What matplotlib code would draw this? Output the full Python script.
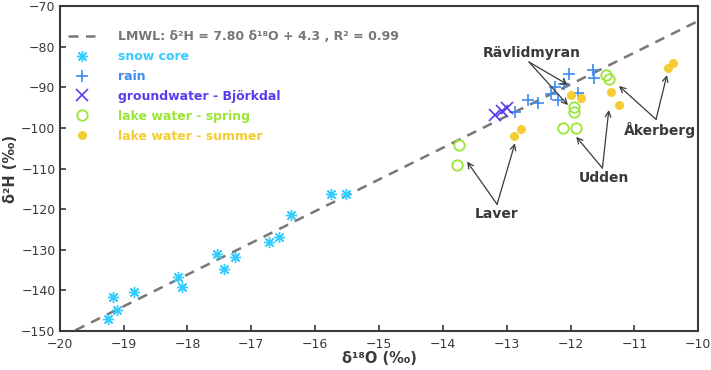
import matplotlib.pyplot as plt
import numpy as np

# data
snow_x = [-19.24, -19.11, -19.17, -18.84, -18.14, -18.09, -17.53, -17.43, -17.25,
          -16.72, -16.57, -16.37, -15.75, -15.51]
snow_y = [-147.1, -144.7, -141.7, -140.3, -136.6, -139.1, -131.0, -134.6, -131.7,
          -128.0, -126.8, -121.4, -116.3, -116.3]

rain_x = [-12.87, -12.67, -12.51, -12.31, -12.19, -12.25, -12.02, -12.10, -11.89, -11.65, -11.63]
rain_y = [-96.2, -93.1, -94.0, -91.7, -93.1, -89.9, -86.8, -89.3, -91.3, -85.8, -87.8]

gw_x = [-13.18, -13.08, -13.00]
gw_y = [-96.8, -95.8, -95.2]

spring_x = [-13.74, -13.78, -11.95, -11.95, -12.11, -11.91, -11.45, -11.39]
spring_y = [-104.2, -109.1, -94.8, -96.2, -100.0, -100.1, -87.0, -88.0]

summer_x = [-12.88, -12.78, -11.99, -11.84, -11.37, -11.24, -10.48, -10.40]
summer_y = [-101.9, -100.3, -91.9, -92.7, -91.2, -94.4, -85.3, -84.1]

lmwl_slope = 7.80
lmwl_icept = 4.3

c_snow = '#33ccff'
c_rain = '#3a8cf0'
c_gw = '#5a3cf0'
c_spring = '#99e633'
c_summer = '#f5cc33'
c_line = '#777777'
c_dark = '#3a3a3a'

fig = plt.figure(figsize=(7.11, 3.70), dpi=100)
ax = fig.add_axes([0.084, 0.105, 0.898, 0.879])

lx = np.array([-20, -10])
ax.plot(lx, lmwl_slope * lx + lmwl_icept, ls=(0, (4, 3)), color=c_line, lw=1.8,
        label='LMWL: δ²H = 7.80 δ¹⁸O + 4.3 , R² = 0.99')
ax.plot(snow_x, snow_y, ls='none', marker=(8, 2, 0), ms=8, mew=1.0, color=c_snow, label='snow core')
ax.plot(rain_x, rain_y, ls='none', marker='+', ms=8.5, mew=1.2, color=c_rain, label='rain')
ax.plot(gw_x, gw_y, ls='none', marker='x', ms=8, mew=1.2, color=c_gw, label='groundwater - Björkdal')
ax.plot(spring_x, spring_y, ls='none', marker='o', ms=7.5, mew=1.3, mfc='none', color=c_spring,
        label='lake water - spring')
ax.plot(summer_x, summer_y, ls='none', marker='o', ms=6.5, mew=0, color=c_summer, label='lake water - summer')

# site labels with arrows
arrow = dict(arrowstyle='->', color=c_dark, lw=0.9, shrinkA=0, shrinkB=0)
sites = [
    ('Rävlidmyran', (-12.6, -81.6), (-12.65, -83.8), [(-12.04, -89.4), (-12.04, -94.4)], 'center'),
    ('Laver', (-13.15, -119.5), (-13.15, -118.8), [(-13.62, -108.3), (-12.87, -103.8)], 'top'),
    ('Udden', (-11.47, -110.6), (-11.50, -109.9), [(-11.91, -102.2), (-11.40, -95.6)], 'top'),
    ('Åkerberg', (-10.6, -98.6), (-10.66, -97.9), [(-11.24, -89.7), (-10.49, -87.0)], 'top'),
]
for name, tpos, start, ends, va in sites:
    ax.text(tpos[0], tpos[1], name, ha='center', va=va, fontsize=10, fontweight='bold', color=c_dark)
    for e in ends:
        ax.annotate('', xy=e, xytext=start, arrowprops=arrow)

ax.set_xlim(-20, -10)
ax.set_ylim(-150, -70)
ax.set_xticks(np.arange(-20, -9, 1))
ax.set_yticks(np.arange(-150, -69, 10))
ax.tick_params(direction='in', length=4, width=1.2, colors=c_dark, labelsize=9)
ax.tick_params(axis='x', pad=5)
ax.tick_params(axis='y', pad=3)
for s in ax.spines.values():
    s.set_color(c_dark)
    s.set_linewidth(1.5)

ax.set_xlabel('δ¹⁸O (‰)', fontsize=10.5, fontweight='bold', color=c_dark, labelpad=0)
ax.set_ylabel('δ²H (‰)', fontsize=10.5, fontweight='bold', color=c_dark, labelpad=2)

leg = ax.legend(loc='upper left', bbox_to_anchor=(-0.005, 0.96), frameon=False,
                fontsize=9, handlelength=2.2, handletextpad=1.8, labelspacing=0.55,
                labelcolor=[c_line, c_snow, c_rain, c_gw, c_spring, c_summer])
for t in leg.get_texts():
    t.set_fontweight('bold')

fig.savefig('out.png', dpi=100)
